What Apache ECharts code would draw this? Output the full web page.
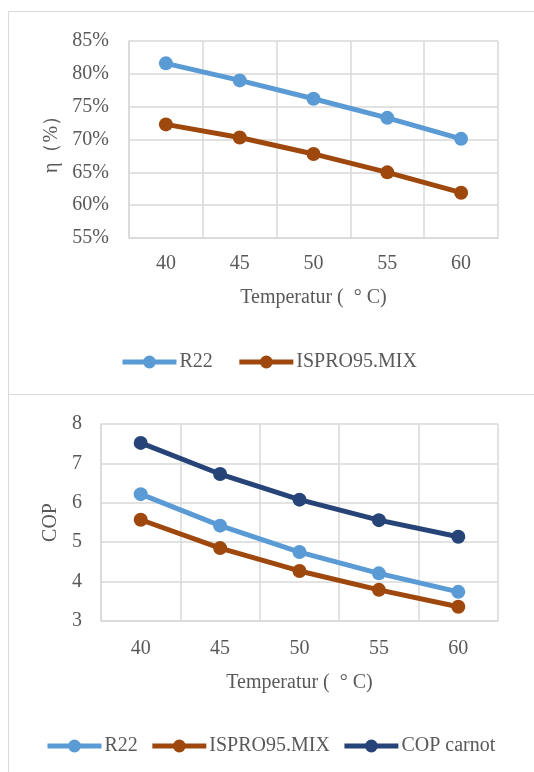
<!DOCTYPE html>
<html>
<head>
<meta charset="utf-8">
<script src="https://cdn.jsdelivr.net/npm/echarts@6/dist/echarts.min.js"></script>
<style>
  html, body { margin: 0; padding: 0; background: #fff; overflow: hidden; width: 534px; height: 772px; }
  .box { position: absolute; border: 1px solid #d9d9d9; box-sizing: border-box; }
  .chart { position: absolute; left: 0; width: 534px; }
</style>
</head>
<body>
<div class="box" style="left:8px; top:11px; width:540px; height:384px;"></div>
<div class="box" style="left:8px; top:394px; width:540px; height:400px;"></div>
<div id="eff_chart" class="chart" style="top:0; height:394px;"></div>
<div id="cop_chart" class="chart" style="top:394px; height:378px;"></div>
<script>
// data
var temps = ['40', '45', '50', '55', '60'];
var effR22 = [81.6, 79.0, 76.2, 73.3, 70.1];
var effIspro = [72.3, 70.3, 67.8, 65.0, 61.9];
var copR22 = [6.22, 5.42, 4.75, 4.21, 3.74];
var copIspro = [5.57, 4.85, 4.27, 3.79, 3.36];
var copCarnot = [7.52, 6.73, 6.08, 5.56, 5.14];

var FONT = 'Liberation Serif';
var TXT = '#595959';
var GRID = '#d9d9d9';
var cBlue = '#5b9bd5', cBrown = '#9e480e', cNavy = '#264478';

function lineSeries(name, data, color) {
    return {
        name: name,
        type: 'line',
        data: data,
        symbol: 'circle',
        symbolSize: 14,
        itemStyle: { color: color },
        lineStyle: { color: color, width: 5 },
        emphasis: { disabled: true }
    };
}

function xAxisOpt(labelMargin, gap) {
    return {
        type: 'category',
        data: temps,
        boundaryGap: true,
        name: 'Temperatur (  \u00b0 C)',
        nameLocation: 'middle',
        nameGap: gap,
        nameTextStyle: { fontFamily: FONT, fontSize: 20, color: TXT },
        axisLine: { lineStyle: { color: GRID, width: 1.5 } },
        axisTick: { show: false },
        axisLabel: { fontFamily: FONT, fontSize: 20, color: TXT, margin: labelMargin },
        splitLine: { show: true, lineStyle: { color: GRID, width: 1.5 } }
    };
}

function legendOpt(names, left, top, gap) {
    return {
        data: names,
        left: left,
        top: top,
        itemWidth: 54,
        itemHeight: 16,
        itemGap: gap,
        lineStyle: { width: 5 },
        textStyle: { fontFamily: FONT, fontSize: 20, color: TXT, padding: [0, 0, 0, -2] }
    };
}

// ---- efficiency chart ----
var chartEff = echarts.init(document.getElementById('eff_chart'));

option = {
    animation: false,
    grid: { left: 129, right: 36, top: 41, bottom: 156 },
    legend: legendOpt(['R22', 'ISPRO95.MIX'], 115, 347, 24),
    xAxis: xAxisOpt(16, 50),
    yAxis: {
        type: 'value',
        min: 55,
        max: 85,
        interval: 5,
        name: '\u03b7\uff08%\uff09',
        nameLocation: 'middle',
        nameGap: 58,
        nameTextStyle: { fontFamily: FONT, fontSize: 20, color: TXT },
        axisLine: { show: true, lineStyle: { color: GRID, width: 1.5 } },
        axisLabel: { fontFamily: FONT, fontSize: 20, color: TXT, margin: 20, formatter: '{value}%' },
        splitLine: { lineStyle: { color: GRID, width: 1.5 } }
    },
    series: [
        lineSeries('R22', effR22, cBlue),
        lineSeries('ISPRO95.MIX', effIspro, cBrown)
    ]
};

chartEff.setOption(option);

// ---- COP chart ----
var chartCop = echarts.init(document.getElementById('cop_chart'));

option = {
    animation: false,
    grid: { left: 101, right: 36, top: 30, bottom: 151 },
    legend: legendOpt(['R22', 'ISPRO95.MIX', 'COP carnot'], 40, 337, 12),
    xAxis: xAxisOpt(18, 52),
    yAxis: {
        type: 'value',
        min: 3,
        max: 8,
        interval: 1,
        name: 'COP',
        nameLocation: 'middle',
        nameGap: 34,
        nameTextStyle: { fontFamily: FONT, fontSize: 20, color: TXT },
        axisLine: { show: true, lineStyle: { color: GRID, width: 1.5 } },
        axisLabel: { fontFamily: FONT, fontSize: 20, color: TXT, margin: 19 },
        splitLine: { lineStyle: { color: GRID, width: 1.5 } }
    },
    series: [
        lineSeries('R22', copR22, cBlue),
        lineSeries('ISPRO95.MIX', copIspro, cBrown),
        lineSeries('COP carnot', copCarnot, cNavy)
    ]
};

chartCop.setOption(option);
</script>
</body>
</html>
